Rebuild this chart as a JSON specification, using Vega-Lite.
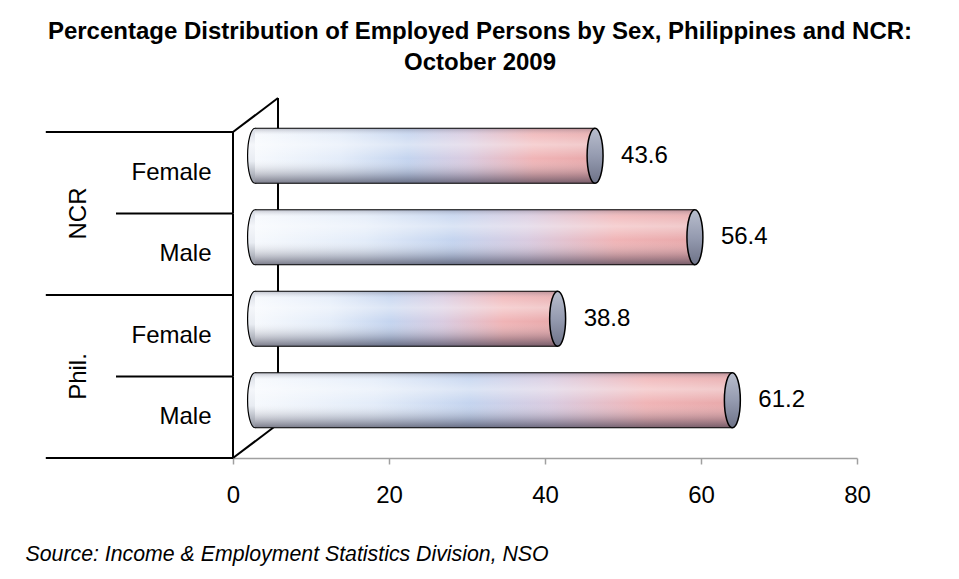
{
  "$schema": "https://vega.github.io/schema/vega-lite/v6.json",
  "width": 624,
  "height": 360,
  "autosize": {"type": "none"},
  "padding": {"left": 233, "top": 98, "right": 102, "bottom": 121},
  "background": "white",
  "config": {"font": "Liberation Sans", "view": {"stroke": null}},
  "title": {
    "text": ["Percentage Distribution of Employed Persons by Sex, Philippines and NCR:", "October 2009"],
    "fontSize": 24,
    "fontWeight": "bold",
    "color": "black",
    "lineHeight": 31,
    "anchor": "middle",
    "frame": "group",
    "dx": -65,
    "offset": 22
  },
  "data": {
    "values": [
      {"group": "NCR", "sex": "Female", "key": "NCR|Female", "pct": 43.6},
      {"group": "NCR", "sex": "Male", "key": "NCR|Male", "pct": 56.4},
      {"group": "Phil.", "sex": "Female", "key": "Phil.|Female", "pct": 38.8},
      {"group": "Phil.", "sex": "Male", "key": "Phil.|Male", "pct": 61.2}
    ]
  },
  "encoding": {
    "y": {
      "field": "key",
      "type": "nominal",
      "scale": {
        "domain": ["NCR|Female", "NCR|Male", "Phil.|Female", "Phil.|Male"],
        "paddingInner": 0,
        "paddingOuter": 0.2086,
        "align": 1
      },
      "axis": {
        "title": null,
        "labelExpr": "split(datum.value, '|')[1]",
        "labelFontSize": 24,
        "labelColor": "black",
        "labelPadding": 22,
        "ticks": false,
        "domain": false
      }
    },
    "x": {
      "field": "pct",
      "type": "quantitative",
      "scale": {"domain": [0, 80], "nice": false},
      "axis": {
        "values": [0, 20, 40, 60, 80],
        "grid": false,
        "domainColor": "#a0a0a0",
        "domainWidth": 1.5,
        "tickColor": "#a0a0a0",
        "tickSize": 6,
        "tickWidth": 1.5,
        "labelFontSize": 24,
        "labelColor": "black",
        "labelPadding": 19,
        "labelFlush": false,
        "title": "Source: Income & Employment Statistics Division, NSO",
        "titleFontSize": 21.3,
        "titleFontStyle": "italic",
        "titleFontWeight": "normal",
        "titleColor": "black",
        "titleX": -208,
        "titleY": 102,
        "titleAlign": "left",
        "titleAnchor": "start",
        "titleBaseline": "alphabetic"
      }
    }
  },
  "layer": [
    {
      "mark": {"type": "bar", "fillOpacity": 0, "stroke": "black", "strokeWidth": 2, "yOffset": -34, "y2Offset": -34},
      "encoding": {"x": {"datum": 5.77}, "x2": {"datum": 5.77}}
    },
    {
      "mark": {"type": "bar", "fillOpacity": 0, "stroke": "black", "strokeWidth": 2},
      "encoding": {"x": {"datum": 0}, "x2": {"datum": 0}}
    },
    {
      "transform": [{"filter": "datum.key === 'NCR|Female'"}],
      "mark": {"type": "rule", "color": "black", "strokeWidth": 2, "y2Offset": -34},
      "encoding": {
        "x": {"datum": 0},
        "x2": {"datum": 5.77},
        "y": {"field": "key", "type": "nominal", "bandPosition": 0},
        "y2": {"field": "key", "bandPosition": 0}
      }
    },
    {
      "transform": [{"filter": "datum.key === 'Phil.|Male'"}],
      "mark": {"type": "rule", "color": "black", "strokeWidth": 2, "y2Offset": -34},
      "encoding": {
        "x": {"datum": 0},
        "x2": {"datum": 5.77},
        "y": {"field": "key", "type": "nominal", "bandPosition": 1},
        "y2": {"field": "key", "bandPosition": 1}
      }
    },
    {
      "transform": [{"filter": "datum.sex === 'Female'"}],
      "mark": {"type": "rule", "color": "black", "strokeWidth": 2},
      "encoding": {
        "x": {"datum": -24},
        "x2": {"datum": 0},
        "y": {"field": "key", "type": "nominal", "bandPosition": 0}
      }
    },
    {
      "transform": [{"filter": "datum.key === 'Phil.|Male'"}],
      "mark": {"type": "rule", "color": "black", "strokeWidth": 2},
      "encoding": {
        "x": {"datum": -24},
        "x2": {"datum": 0},
        "y": {"field": "key", "type": "nominal", "bandPosition": 1}
      }
    },
    {
      "transform": [{"filter": "datum.sex === 'Male'"}],
      "mark": {"type": "rule", "color": "black", "strokeWidth": 2},
      "encoding": {
        "x": {"datum": -15},
        "x2": {"datum": 0},
        "y": {"field": "key", "type": "nominal", "bandPosition": 0}
      }
    },
    {
      "transform": [{"filter": "datum.sex === 'Male'"}],
      "mark": {"type": "text", "angle": 270, "fontSize": 24, "color": "black", "align": "center", "baseline": "middle"},
      "encoding": {
        "x": {"datum": -19.7},
        "y": {"field": "key", "type": "nominal", "bandPosition": 0},
        "text": {"field": "group"}
      }
    },
    {
      "mark": {
        "type": "point",
        "shape": "M0,-1A0.27,1,0,1,1,0,1A0.27,1,0,1,1,0,-1Z",
        "size": 3025,
        "filled": true,
        "opacity": 1,
        "stroke": "black",
        "strokeWidth": 1.2,
        "xOffset": 22,
        "yOffset": -17,
        "fill": {
          "gradient": "linear",
          "x1": 0, "y1": 0, "x2": 0, "y2": 1,
          "stops": [
            {"offset": 0, "color": "#d6dae3"},
            {"offset": 0.3, "color": "#f4f6fa"},
            {"offset": 0.6, "color": "#e8ecf2"},
            {"offset": 1, "color": "#8c909c"}
          ]
        }
      },
      "encoding": {"x": {"datum": 0}}
    },
    {
      "mark": {
        "type": "bar",
        "height": {"band": 0.675},
        "xOffset": 22,
        "x2Offset": 22,
        "yOffset": -17,
        "strokeWidth": 0,
        "fill": {
          "gradient": "linear",
          "x1": 0, "y1": 0, "x2": 1, "y2": 0,
          "stops": [
            {"offset": 0, "color": "#f6f9fd"},
            {"offset": 0.25, "color": "#e3ecf9"},
            {"offset": 0.45, "color": "#c4d4ef"},
            {"offset": 0.62, "color": "#d9cbe0"},
            {"offset": 0.82, "color": "#f0b4b6"},
            {"offset": 1, "color": "#e8a8aa"}
          ]
        }
      },
      "encoding": {"x2": {"datum": 0}}
    },
    {
      "mark": {
        "type": "bar",
        "height": {"band": 0.675},
        "xOffset": 22,
        "x2Offset": 22,
        "yOffset": -17,
        "strokeWidth": 0,
        "fill": {
          "gradient": "linear",
          "x1": 0, "y1": 0, "x2": 0, "y2": 1,
          "stops": [
            {"offset": 0, "color": "rgba(90,90,110,0.35)"},
            {"offset": 0.12, "color": "rgba(255,255,255,0.15)"},
            {"offset": 0.3, "color": "rgba(255,255,255,0.4)"},
            {"offset": 0.55, "color": "rgba(255,255,255,0)"},
            {"offset": 0.85, "color": "rgba(60,60,80,0.3)"},
            {"offset": 1, "color": "rgba(40,40,60,0.6)"}
          ]
        }
      },
      "encoding": {"x2": {"datum": 0}}
    },
    {
      "mark": {"type": "rule", "color": "black", "strokeWidth": 1.2, "xOffset": 22, "x2Offset": 22, "yOffset": -44.5},
      "encoding": {"x2": {"datum": 0}}
    },
    {
      "mark": {"type": "rule", "color": "black", "strokeWidth": 1.2, "xOffset": 22, "x2Offset": 22, "yOffset": 10.5},
      "encoding": {"x2": {"datum": 0}}
    },
    {
      "mark": {
        "type": "point",
        "shape": "M0,-1A0.29,1,0,1,1,0,1A0.29,1,0,1,1,0,-1Z",
        "size": 3025,
        "filled": true,
        "opacity": 1,
        "stroke": "black",
        "strokeWidth": 1.5,
        "xOffset": 22,
        "yOffset": -17,
        "fill": {
          "gradient": "linear",
          "x1": 0, "y1": 0, "x2": 0, "y2": 1,
          "stops": [
            {"offset": 0, "color": "#b9becd"},
            {"offset": 0.5, "color": "#959bb0"},
            {"offset": 1, "color": "#6e7388"}
          ]
        }
      }
    },
    {
      "mark": {"type": "text", "align": "left", "baseline": "middle", "fontSize": 24, "color": "black", "dx": 48, "dy": -17},
      "encoding": {"text": {"field": "pct", "format": ".1f"}}
    }
  ]
}
